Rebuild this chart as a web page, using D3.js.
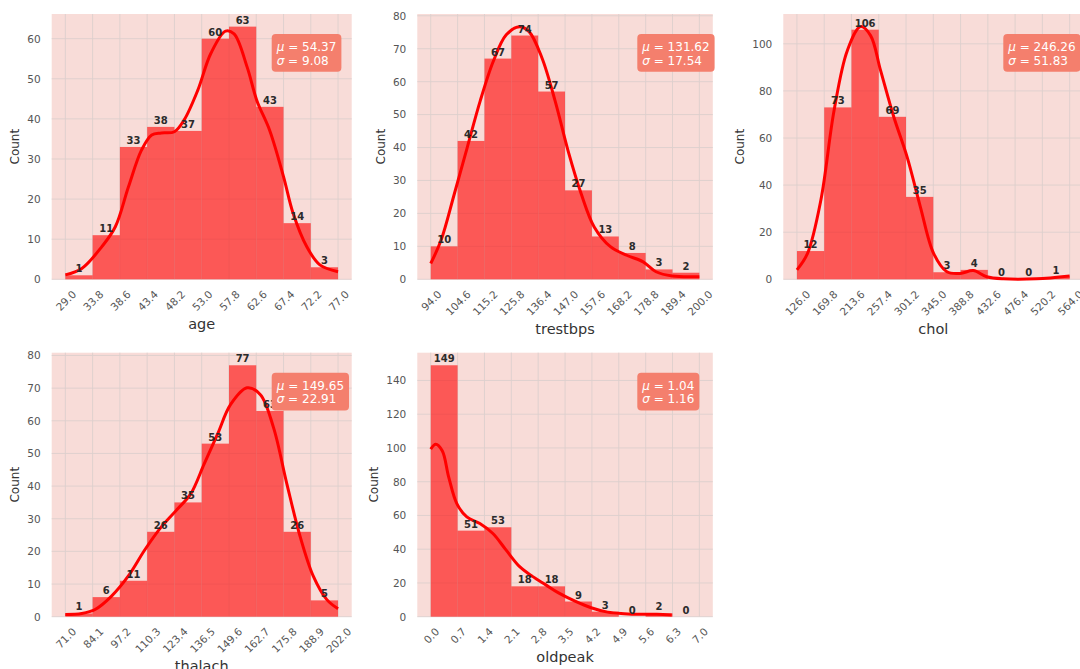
<!DOCTYPE html>
<html>
<head>
<meta charset="utf-8">
<title>Distributions</title>
<script src="https://cdn.jsdelivr.net/npm/d3@7"></script>
<style>
    body {
        margin: 0;
        padding: 0;
        background-color: white;
        font-family: "DejaVu Sans", sans-serif;
    }
    .plot-bg { fill: #f8dcd8; }
    .grid line { stroke: #dccfcd; stroke-width: 0.9; }
    .bar { fill: #ff0000; fill-opacity: 0.6; }
    .kde { fill: none; stroke: #ff0000; stroke-width: 3; stroke-linejoin: round; }
    .tick text { fill: #555; font-size: 10.5px; font-family: "DejaVu Sans", sans-serif; }
    .bar-label { fill: #2b2b2b; font-size: 10px; font-weight: bold; text-anchor: middle; }
    .y-label { fill: #333; font-size: 12px; text-anchor: middle; }
    .x-label { fill: #333; font-size: 14.5px; text-anchor: middle; }
    .stat-box { fill: #f47f6d; }
    .stat-text { fill: white; font-size: 12px; }
</style>
</head>
<body>
<svg id="chart" width="1080" height="669"></svg>
<script>
// bin edges (also the tick labels) and counts
const ageEdges = [29.0, 33.8, 38.6, 43.4, 48.2, 53.0, 57.8, 62.6, 67.4, 72.2, 77.0];
const ageCounts = [1, 11, 33, 38, 37, 60, 63, 43, 14, 3];
const ageKde = [[29, 1.1], [31.9, 2.7], [35.4, 8.1], [37.8, 13.1], [40.1, 23], [42.4, 32.2], [44.2, 36], [45.9, 36.5],
    [48.2, 36.8], [49.9, 39.7], [52.3, 47.1], [54.6, 56.3], [57.2, 61.9], [58.7, 61.2], [61, 52.9], [62.7, 44.6],
    [65, 37], [67.4, 25.6], [69.1, 16.4], [71.5, 8.1], [73.8, 3.6], [77, 1.9]];

const trestbpsEdges = [94.0, 104.6, 115.2, 125.8, 136.4, 147.0, 157.6, 168.2, 178.8, 189.4, 200.0];
const trestbpsCounts = [10, 42, 67, 74, 57, 27, 13, 8, 3, 2];
const trestbpsKde = [[94, 4.8], [98.1, 11.9], [103.3, 25.9], [108.4, 40], [113.5, 54.1], [118.7, 66.2], [123.8, 74.2],
    [129, 76.7], [132.8, 75.2], [137.9, 67.2], [143.1, 54.1], [148.2, 39], [153.4, 25.9], [158.5, 15.9],
    [164.9, 9.9], [171.3, 7.3], [177.8, 5.3], [182.9, 2.3], [189.3, 1], [200, 0.8]];

const cholEdges = [126.0, 169.8, 213.6, 257.4, 301.2, 345.0, 388.8, 432.6, 476.4, 520.2, 564.0];
const cholCounts = [12, 73, 106, 69, 35, 3, 4, 0, 0, 1];
const cholKde = [[126, 4], [143, 11], [164.4, 33.6], [185.7, 71.8], [207, 97.2], [228.3, 107.3], [244.3, 103.5],
    [260.3, 88.7], [281.6, 68.9], [302.9, 52], [324.2, 30.8], [345.5, 11], [366.8, 3.2], [388.1, 2.5],
    [409.4, 3.7], [430.7, 1.1], [457.4, 0.2], [510.6, 0.2], [564, 1.4]];

const thalachEdges = [71.0, 84.1, 97.2, 110.3, 123.4, 136.5, 149.6, 162.7, 175.8, 188.9, 202.0];
const thalachCounts = [1, 6, 11, 26, 35, 53, 77, 63, 26, 5];
const thalachKde = [[71, 0.7], [78.9, 1], [85.3, 2.2], [93.2, 6.3], [101.2, 12.4], [109.2, 20.5], [117.1, 27.5],
    [125.1, 33.1], [131.3, 37.7], [137.7, 46.8], [144.1, 55.9], [150.4, 65], [158.3, 70.1], [164.7, 68],
    [171, 57.9], [177.4, 40.7], [183.8, 24.5], [190.1, 12.4], [196.5, 5.3], [202, 2.4]];

const oldpeakEdges = [0.0, 0.7, 1.4, 2.1, 2.8, 3.5, 4.2, 4.9, 5.6, 6.3, 7.0];
const oldpeakCounts = [149, 51, 53, 18, 18, 9, 3, 0, 2, 0];
const oldpeakKde = [[0, 99.3], [0.13, 102.2], [0.3, 98.3], [0.47, 82.6], [0.68, 67], [0.94, 59.1], [1.28, 55.2],
    [1.62, 49.3], [1.96, 39.6], [2.31, 29.8], [2.65, 23.9], [2.99, 19], [3.33, 14.1], [3.76, 9.2],
    [4.18, 5.3], [4.61, 2.7], [5.04, 1.8], [5.47, 1.4], [5.89, 1.4], [6.28, 1]];

const names = ["age", "trestbps", "chol", "thalach", "oldpeak"];
const means = ["54.37", "131.62", "246.26", "149.65", "1.04"];
const stds = ["9.08", "17.54", "51.83", "22.91", "1.16"];
const yTickSteps = [10, 10, 20, 10, 20];

const panels = [
    { edges: ageEdges, counts: ageCounts, kde: ageKde },
    { edges: trestbpsEdges, counts: trestbpsCounts, kde: trestbpsKde },
    { edges: cholEdges, counts: cholCounts, kde: cholKde },
    { edges: thalachEdges, counts: thalachCounts, kde: thalachKde },
    { edges: oldpeakEdges, counts: oldpeakCounts, kde: oldpeakKde }
];

// axes rectangles (3 x 2 grid, last cell empty)
const boxes = [
    { x: 51.7, y: 14, w: 300, h: 265.3 },
    { x: 417.3, y: 14, w: 295.5, h: 265.3 },
    { x: 783.3, y: 14, w: 300, h: 265.3 },
    { x: 51.7, y: 352.7, w: 300, h: 264 },
    { x: 417.3, y: 352.7, w: 295.5, h: 264 }
];

const svg = d3.select("#chart");

panels.forEach((p, i) => {
    const b = boxes[i];
    const g = svg.append("g").attr("transform", `translate(${b.x},${b.y})`);

    const lo = p.edges[0], hi = p.edges[p.edges.length - 1];
    const pad = (hi - lo) * 0.05;
    const x = d3.scaleLinear().domain([lo - pad, hi + pad]).range([0, b.w]);

    const peak = Math.max(d3.max(p.counts), d3.max(p.kde, d => d[1]));
    const y = d3.scaleLinear().domain([0, peak * 1.05]).range([b.h, 0]);
    const yTicks = d3.range(0, peak * 1.05, yTickSteps[i]);

    g.append("rect").attr("class", "plot-bg")
        .attr("width", b.w).attr("height", b.h);

    // grid
    g.append("g").attr("class", "grid")
        .selectAll("line.v").data(p.edges).enter().append("line")
        .attr("x1", d => x(d)).attr("x2", d => x(d))
        .attr("y1", 0).attr("y2", b.h);
    g.append("g").attr("class", "grid")
        .selectAll("line.h").data(yTicks).enter().append("line")
        .attr("x1", 0).attr("x2", b.w)
        .attr("y1", d => y(d)).attr("y2", d => y(d));

    // bars
    g.selectAll(".bar").data(p.counts).enter().append("rect")
        .attr("class", "bar")
        .attr("x", (d, j) => x(p.edges[j]))
        .attr("width", (d, j) => x(p.edges[j + 1]) - x(p.edges[j]))
        .attr("y", d => y(d))
        .attr("height", d => b.h - y(d));

    // kde curve
    const line = d3.line().x(d => x(d[0])).y(d => y(d[1])).curve(d3.curveCatmullRom);
    g.append("path").attr("class", "kde").attr("d", line(p.kde));

    // count labels
    g.selectAll(".bar-label").data(p.counts).enter().append("text")
        .attr("class", "bar-label")
        .attr("x", (d, j) => (x(p.edges[j]) + x(p.edges[j + 1])) / 2)
        .attr("y", d => y(d) - 3)
        .text(d => d);

    // x axis, labels rotated 45 deg, centred under each tick
    const xAxis = g.append("g")
        .attr("transform", `translate(0,${b.h})`)
        .call(d3.axisBottom(x).tickValues(p.edges).tickFormat(d3.format(".1f")).tickSize(0));
    xAxis.select(".domain").remove();
    xAxis.selectAll("text")
        .attr("y", null).attr("dy", null)
        .attr("text-anchor", "middle")
        .attr("dominant-baseline", "central")
        .attr("transform", function () {
            const w = this.getComputedTextLength();
            const half = (w + 8) * 0.7071 / 2;
            return `translate(0,${10 + half}) rotate(-45)`;
        });
    const axBox = xAxis.node().getBBox();

    // y axis
    const yAxis = g.append("g")
        .call(d3.axisLeft(y).tickValues(yTicks).tickSize(0).tickPadding(11));
    yAxis.select(".domain").remove();
    const yBox = yAxis.node().getBBox();

    g.append("text").attr("class", "y-label")
        .attr("transform", `translate(${yBox.x - 8},${b.h / 2}) rotate(-90)`)
        .text("Count");

    g.append("text").attr("class", "x-label")
        .attr("x", b.w / 2)
        .attr("y", b.h + axBox.y + axBox.height + 16)
        .text(names[i]);

    // mean / std box
    const sx = 220, sy = 20;
    const box = g.append("rect").attr("class", "stat-box")
        .attr("x", sx).attr("y", sy).attr("rx", 4).attr("ry", 4)
        .attr("height", 37.7);
    const t1 = g.append("text").attr("class", "stat-text").attr("x", sx + 5).attr("y", sy + 17);
    t1.append("tspan").attr("font-style", "italic").text("μ");
    t1.append("tspan").text(" = " + means[i]);
    const t2 = g.append("text").attr("class", "stat-text").attr("x", sx + 5).attr("y", sy + 30.5);
    t2.append("tspan").attr("font-style", "italic").text("σ");
    t2.append("tspan").text(" = " + stds[i]);
    const tw = Math.max(t1.node().getComputedTextLength(), t2.node().getComputedTextLength());
    box.attr("width", tw + 10);
});
</script>
</body>
</html>
